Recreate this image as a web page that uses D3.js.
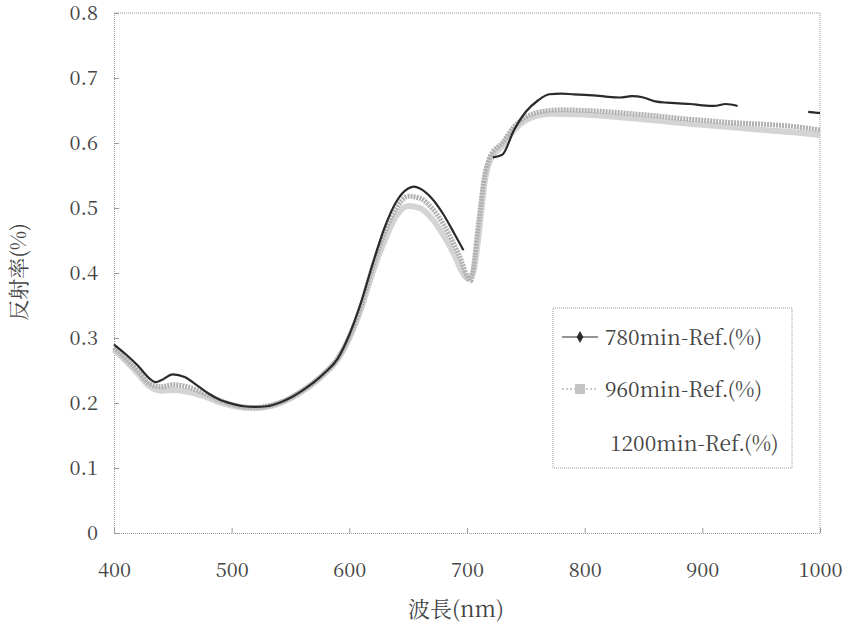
<!DOCTYPE html>
<html><head><meta charset="utf-8">
<script src="https://cdn.jsdelivr.net/npm/d3@7"></script>
<style>body{margin:0;background:#fff}svg{display:block}
.sf{font-family:"Noto Serif CJK TC","Liberation Serif",serif;}
.cj{font-family:"Noto Serif CJK TC","Liberation Serif",serif;}
</style>
</head><body>
<svg id="c" width="854" height="634"></svg>
<script>
// wavelengths (nm) and reflectance values; null = gap in the curve
const wl780 = [400,410,420,430,435,440,450,460,470,480,490,500,510,520,530,540,550,560,570,580,590,600,610,620,630,640,650,655,660,670,680,690,697,710,722,730,740,750,760,770,780,790,800,810,820,830,840,850,860,870,880,890,900,910,920,930,960,990,1000];
const ref780 = [0.290,0.275,0.258,0.238,0.232,0.235,0.244,0.240,0.228,0.215,0.205,0.199,0.195,0.194,0.195,0.200,0.208,0.219,0.232,0.248,0.268,0.305,0.355,0.415,0.470,0.510,0.530,0.533,0.530,0.515,0.490,0.458,0.435,null,0.578,0.582,0.620,0.648,0.665,0.675,0.676,0.675,0.674,0.673,0.671,0.670,0.672,0.670,0.664,0.662,0.661,0.660,0.658,0.657,0.660,0.657,null,0.648,0.646];

const wl960 = [400,410,420,430,440,450,460,470,480,490,500,510,520,530,540,550,560,570,580,590,600,610,620,630,640,650,660,670,680,690,695,700,703,710,715,720,730,740,750,760,770,780,800,820,840,860,880,900,920,940,960,980,1000];
const ref960 = [0.285,0.268,0.250,0.230,0.225,0.228,0.226,0.220,0.212,0.204,0.198,0.194,0.193,0.195,0.200,0.208,0.219,0.232,0.248,0.268,0.302,0.350,0.410,0.462,0.500,0.518,0.515,0.500,0.475,0.440,0.420,0.395,0.388,0.480,0.550,0.580,0.600,0.625,0.640,0.647,0.650,0.651,0.650,0.648,0.645,0.642,0.638,0.635,0.632,0.630,0.628,0.625,0.620];

const wl1200 = [400,410,420,430,440,450,460,470,480,490,500,510,520,530,540,550,560,570,580,590,600,610,620,630,640,650,660,670,680,690,695,700,705,710,715,720,730,740,750,760,770,800,820,840,860,880,900,920,940,960,980,1000];
const ref1200 = [0.282,0.265,0.246,0.226,0.219,0.220,0.218,0.214,0.208,0.201,0.196,0.193,0.192,0.194,0.199,0.207,0.218,0.231,0.247,0.267,0.300,0.345,0.402,0.450,0.488,0.503,0.500,0.484,0.458,0.425,0.405,0.392,0.400,0.460,0.540,0.575,0.595,0.620,0.635,0.642,0.645,0.644,0.641,0.638,0.635,0.631,0.628,0.625,0.622,0.619,0.616,0.612];

const xTicks = [400,500,600,700,800,900,1000];
const yTicks = [0,0.1,0.2,0.3,0.4,0.5,0.6,0.7,0.8];
const seriesNames = ["780min-Ref.(%)","960min-Ref.(%)","1200min-Ref.(%)"];
const xTitle = "波長(nm)";
const yTitle = "反射率(%)";

const svg = d3.select("#c");
const x = d3.scaleLinear().domain([400,1000]).range([114,820]);
const y = d3.scaleLinear().domain([0,0.8]).range([533,13]);

// frame (dotted)
const frame = svg.append("g").attr("stroke","#9a9a9a").attr("stroke-width",1).attr("stroke-dasharray","1,1").attr("fill","none");
frame.append("line").attr("x1",x(400)).attr("x2",x(1000)).attr("y1",y(0.8)).attr("y2",y(0.8));
frame.append("line").attr("x1",x(1000)).attr("x2",x(1000)).attr("y1",y(0.8)).attr("y2",y(0));

// axes
const xAxis = svg.append("g").attr("transform",`translate(0,${y(0)})`)
  .call(d3.axisBottom(x).tickValues(xTicks).tickSize(-5).tickFormat(d=>d).tickPadding(30));
const yAxis = svg.append("g").attr("transform",`translate(${x(400)},0)`)
  .call(d3.axisLeft(y).tickValues(yTicks).tickSize(-5).tickFormat(d=>d===0?"0":d3.format(".1f")(d)).tickPadding(16));
[xAxis,yAxis].forEach(a=>{
  a.attr("font-family",null).attr("font-size",null);
  a.select(".domain").attr("stroke","#9a9a9a").attr("stroke-dasharray","1,1");
  a.selectAll(".tick line").attr("stroke","#9a9a9a");
  a.selectAll(".tick text").attr("class","sf").attr("fill","#444").style("font-size","20px");
});

// series
const line = (wl,vals) => d3.line().defined((d,i)=>vals[i]!==null)
  .x((d,i)=>x(wl[i])).y((d,i)=>y(vals[i])).curve(d3.curveMonotoneX)(wl);
svg.append("path").attr("d",line(wl1200,ref1200)).attr("fill","none").attr("stroke","#d4d4d4").attr("stroke-width",6);
svg.append("path").attr("d",line(wl960,ref960)).attr("fill","none").attr("stroke","#b0b0b0").attr("stroke-width",5).attr("stroke-dasharray","2,1");
svg.append("path").attr("d",line(wl780,ref780)).attr("fill","none").attr("stroke","#2a2a2a").attr("stroke-width",2.2);

// legend
const lg = svg.append("g");
lg.append("rect").attr("x",553).attr("y",308).attr("width",239).attr("height",160)
  .attr("fill","#fff").attr("stroke","#9a9a9a").attr("stroke-dasharray","1,1");
const ly = [337,389,443];
lg.append("line").attr("x1",562).attr("x2",598).attr("y1",ly[0]).attr("y2",ly[0]).attr("stroke","#2a2a2a").attr("stroke-width",1.2);
lg.append("path").attr("d",d3.symbol(d3.symbolDiamond,40)()).attr("transform",`translate(580,${ly[0]})`).attr("fill","#2a2a2a");
lg.append("line").attr("x1",562).attr("x2",598).attr("y1",ly[1]).attr("y2",ly[1]).attr("stroke","#bbb").attr("stroke-width",1.5).attr("stroke-dasharray","2,2");
lg.append("rect").attr("x",575).attr("y",ly[1]-5).attr("width",10).attr("height",10).attr("fill","#c4c4c4");
lg.selectAll("text.lt").data(seriesNames).join("text").attr("class","lt sf")
  .attr("x",(d,i)=>i===2?610:605).attr("y",(d,i)=>ly[i]+8)
  .attr("fill","#444").style("font-size","21px").text(d=>d);

// titles
svg.append("text").attr("class","cj").attr("x",456).attr("y",617).attr("text-anchor","middle")
  .attr("fill","#444").style("font-size","22px").text(xTitle);
svg.append("text").attr("class","cj").attr("transform","translate(26,272) rotate(-90)").attr("text-anchor","middle")
  .attr("fill","#444").style("font-size","21px").text(yTitle);
</script>
</body></html>
